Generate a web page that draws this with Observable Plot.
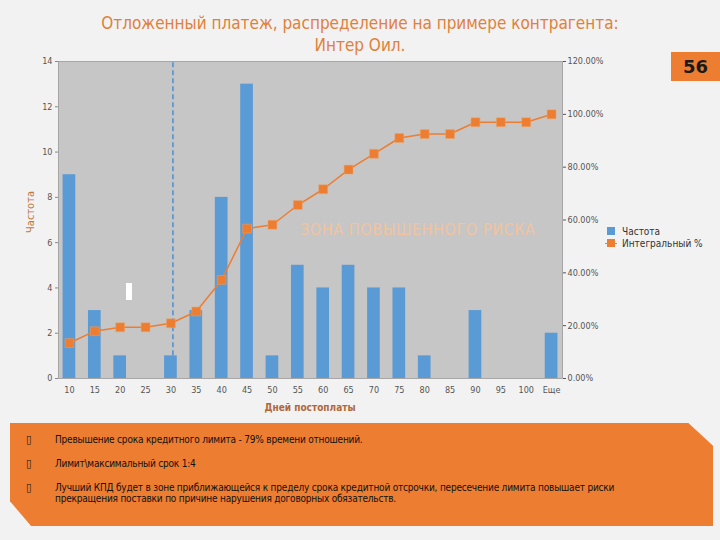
<!DOCTYPE html>
<html>
<head>
<meta charset="utf-8">
<script src="https://cdn.jsdelivr.net/npm/d3@7"></script>
<script src="https://cdn.jsdelivr.net/npm/@observablehq/plot@0.6"></script>
<style>
  html, body { margin: 0; padding: 0; background: #f2f2f2; }
  #page { position: relative; width: 720px; height: 540px; overflow: hidden; background: #f2f2f2; font-family: "DejaVu Sans Condensed", "DejaVu Sans", sans-serif; }
  #chart { position: absolute; left: 0; top: 0; }
  .title { position: absolute; left: 0; width: 720px; text-align: center; color: #e0803a; font-size: 17px; line-height: 22px; top: 12px; }
  .badge { position: absolute; left: 671px; top: 52px; width: 49px; height: 29px; background: #ed7d31; color: #1a1a1a; font: bold 18px "DejaVu Sans", sans-serif; text-align: center; line-height: 29px; }
  .ylab { position: absolute; left: 30px; top: 212px; transform: translate(-50%, -50%) rotate(-90deg); color: #c07840; font-size: 11px; white-space: nowrap; }
  .xlab { position: absolute; left: 310px; top: 402px; transform: translateX(-50%); color: #b0683a; font-size: 10px; font-weight: bold; white-space: nowrap; }
  .zone { position: absolute; left: 300px; top: 220px; color: #f1c39f; font-size: 16px; white-space: nowrap; letter-spacing: 0.6px; }
  .whitebox { position: absolute; left: 126px; top: 283px; width: 6px; height: 17px; background: #ffffff; }
  .legend { position: absolute; left: 607px; top: 225px; font-size: 10px; color: #333; }
  .legend div { display: flex; align-items: center; height: 12px; }
  .sw { display: inline-block; width: 8px; height: 8px; margin-right: 7px; }
  .lsw { position: relative; display: inline-block; width: 12px; height: 8px; margin: 0 5px 0 -2px; }
  .lsw::before { content: ""; position: absolute; left: 0; right: 0; top: 3.5px; height: 1.5px; background: #ed7d31; }
  .lsw::after { content: ""; position: absolute; left: 2px; top: 0; width: 8px; height: 8px; background: #ed7d31; }
  .box { position: absolute; left: 10px; top: 423px; width: 703px; height: 103px; background: #ed7d31;
         clip-path: polygon(0 0, 96.5% 0, 100% 22%, 100% 100%, 3% 100%, 0 76%); font-size: 10px; color: #111; }
  .box p { position: absolute; margin: 0; left: 45px; right: 40px; line-height: 11px; letter-spacing: -0.2px; }
  .box .b { position: absolute; left: -29px; font-size: 11px; }
</style>
</head>
<body>
<div id="page">
  <div id="chart"></div>
  <div class="title">Отложенный платеж, распределение на примере контрагента:<br>Интер Оил.</div>
  <div class="badge">56</div>
  <div class="ylab">Частота</div>
  <div class="xlab">Дней постоплаты</div>
  <div class="zone">ЗОНА ПОВЫШЕННОГО РИСКА</div>
  <div class="whitebox"></div>
  <div class="legend">
    <div><span class="sw" style="background:#5b9bd5"></span>Частота</div>
    <div><span class="lsw"></span>Интегральный %</div>
  </div>
  <div class="box">
    <p style="top:11px"><span class="b">▯</span>Превышение срока кредитного лимита - 79% времени отношений.</p>
    <p style="top:35px"><span class="b">▯</span>Лимит\максимальный срок 1:4</p>
    <p style="top:59px"><span class="b">▯</span>Лучший КПД будет в зоне приближающейся к пределу срока кредитной отсрочки, пересечение лимита повышает риски прекращения поставки по причине нарушения договорных обязательств.</p>
  </div>
</div>
<script>
const days = ["10","15","20","25","30","35","40","45","50","55","60","65","70","75","80","85","90","95","100","Еще"];
const freq = [9,3,1,0,1,3,8,13,1,5,4,5,4,4,1,0,3,0,0,2];
const cumPct = [13.43,17.91,19.40,19.40,20.90,25.37,37.31,56.72,58.21,65.67,71.64,79.10,85.07,91.04,92.54,92.54,97.01,97.01,97.01,100.00];
const freqTicks = [0,2,4,6,8,10,12,14];
const pctTicks = [0,20,40,60,80,100,120];
const freqMax = 14, pctMax = 120;
const limitDay = "30";

const rows = days.map((d, i) => ({day: d, freq: freq[i], pct: cumPct[i], pctY: cumPct[i] * freqMax / pctMax}));
const limitRow = rows.find(r => r.day === limitDay);

const chart = Plot.plot({
  width: 720,
  height: 420,
  marginTop: 61,
  marginBottom: 42,
  marginLeft: 58,
  marginRight: 158,
  style: {background: "transparent", fontFamily: "'DejaVu Sans Condensed', sans-serif", fontSize: "9px", color: "#555"},
  x: {type: "band", domain: days, paddingInner: 0.5, paddingOuter: 0.18, round: false, label: null},
  y: {domain: [0, freqMax], label: null},
  marks: [
    Plot.frame({fill: "#c6c6c6", stroke: "#9a9a9a", strokeWidth: 0.8}),
    Plot.axisY({ticks: freqTicks, tickSize: 3, tickPadding: 3, label: null, stroke: "#888"}),
    Plot.axisY({anchor: "right", ticks: pctTicks.map(p => p * freqMax / pctMax), tickSize: 3, tickPadding: 2, label: null,
      tickFormat: d => (Math.round(d * pctMax / freqMax)).toFixed(2) + "%"}),
    Plot.axisX({tickSize: 0, tickPadding: 8, label: null}),
    Plot.barY(rows, {x: "day", y: "freq", fill: "#5b9bd5"}),
    Plot.ruleX([limitRow], {x: "day", y1: "freq", y2: freqMax, stroke: "#4f8fd0", strokeWidth: 1.5, strokeDasharray: "5,3", dx: 2}),
    Plot.line(rows, {x: "day", y: "pctY", stroke: "#ed7d31", strokeWidth: 1.5}),
    Plot.dot(rows, {x: "day", y: "pctY", symbol: "square", r: 5, fill: "#ed7d31", stroke: "#f0a060", strokeWidth: 0.5})
  ]
});
document.getElementById("chart").appendChild(chart);
</script>
</body>
</html>
